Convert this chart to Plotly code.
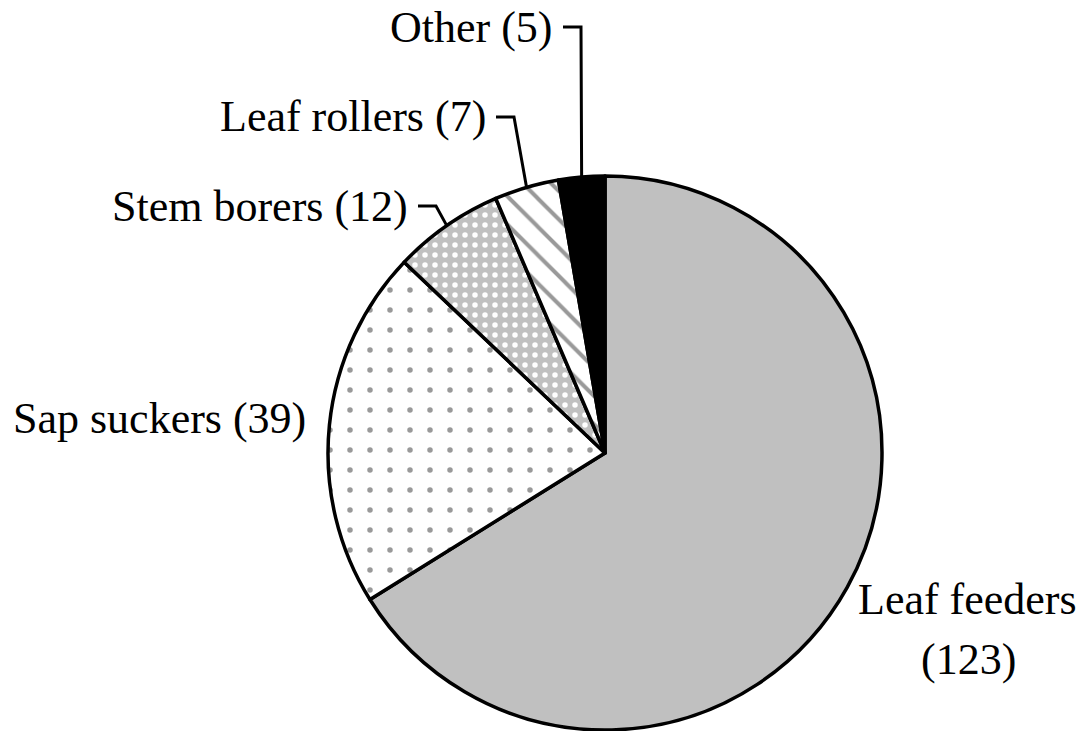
import math
import plotly.graph_objects as go

# ---- data ----
categories = ["Leaf feeders", "Sap suckers", "Stem borers", "Leaf rollers", "Other"]
counts = [123, 39, 12, 7, 5]
label_texts = ["Leaf feeders (123)", "Sap suckers (39)", "Stem borers (12)",
               "Leaf rollers (7)", "Other (5)"]

# ---- layout constants (pixels) ----
W, H = 1080, 731
CX, CY, R = 605, 453, 277
FONT = dict(family="Liberation Serif, Times New Roman, serif", size=44, color="black")

def px(x):
    return x / W

def py(y):
    return 1 - y / H

patterns = [
    dict(shape="", bgcolor="#c0c0c0"),
    dict(shape=".", bgcolor="white", fgcolor="#999999", size=20, solidity=0.06),
    dict(shape=".", bgcolor="#c0c0c0", fgcolor="white", size=10, solidity=0.24),
    dict(shape="\\", bgcolor="white", fgcolor="#999999", size=20, solidity=0.2),
    dict(shape="", bgcolor="black"),
]
colors = ["#c0c0c0", "white", "#c0c0c0", "white", "black"]

fig = go.Figure(go.Pie(
    labels=categories,
    values=counts,
    sort=False,
    direction="clockwise",
    rotation=0,
    textinfo="none",
    hoverinfo="label+value",
    showlegend=False,
    marker=dict(colors=colors, line=dict(color="black", width=3.5), pattern=dict(
        shape=[p["shape"] for p in patterns],
        bgcolor=[p["bgcolor"] for p in patterns],
        fgcolor=[p.get("fgcolor", "black") for p in patterns],
        size=[p.get("size", 10) for p in patterns],
        solidity=[p.get("solidity", 0.3) for p in patterns],
        fillmode="replace",
    )),
    domain=dict(x=[px(CX - R), px(CX + R)], y=[py(CY + R), py(CY - R)]),
))

# label placements: (right edge px, vertical centre px) for left-side labels with leaders
left_labels = {
    2: (410, 206),
    3: (488, 117),
    4: (555, 27),
}

total = sum(counts)
cum = 0
mids = []
for v in counts:
    mids.append(2 * math.pi * (cum + v / 2) / total)
    cum += v

annotations = []
shapes = []
for i, (rx, cy) in left_labels.items():
    annotations.append(dict(x=px(rx), y=py(cy), xref="paper", yref="paper",
                            text=label_texts[i], showarrow=False, xanchor="right",
                            yanchor="middle", font=FONT))
    ex = CX + R * math.sin(mids[i])
    ey = CY - R * math.cos(mids[i])
    x0 = rx + 8
    x1 = x0 + 18
    shapes.append(dict(type="path", xref="paper", yref="paper",
                       path=f"M {px(x0)} {py(cy)} L {px(x1)} {py(cy)} L {px(ex)} {py(ey)}",
                       line=dict(color="black", width=3)))

# Sap suckers label
annotations.append(dict(x=px(308), y=py(418), xref="paper", yref="paper",
                        text=label_texts[1], showarrow=False, xanchor="right",
                        yanchor="middle", font=FONT))
# Leaf feeders label (two lines)
annotations.append(dict(x=px(967), y=py(599), xref="paper", yref="paper",
                        text=categories[0], showarrow=False, xanchor="center",
                        yanchor="middle", font=FONT))
annotations.append(dict(x=px(968), y=py(659), xref="paper", yref="paper",
                        text=f"({counts[0]})", showarrow=False, xanchor="center",
                        yanchor="middle", font=FONT))

fig.update_layout(
    width=W, height=H,
    margin=dict(l=0, r=0, t=0, b=0),
    paper_bgcolor="white", plot_bgcolor="white",
    annotations=annotations, shapes=shapes,
)

fig.write_html("out.html", config={"displayModeBar": False},
               post_script="document.body.style.margin='0';document.body.style.overflow='hidden';")
